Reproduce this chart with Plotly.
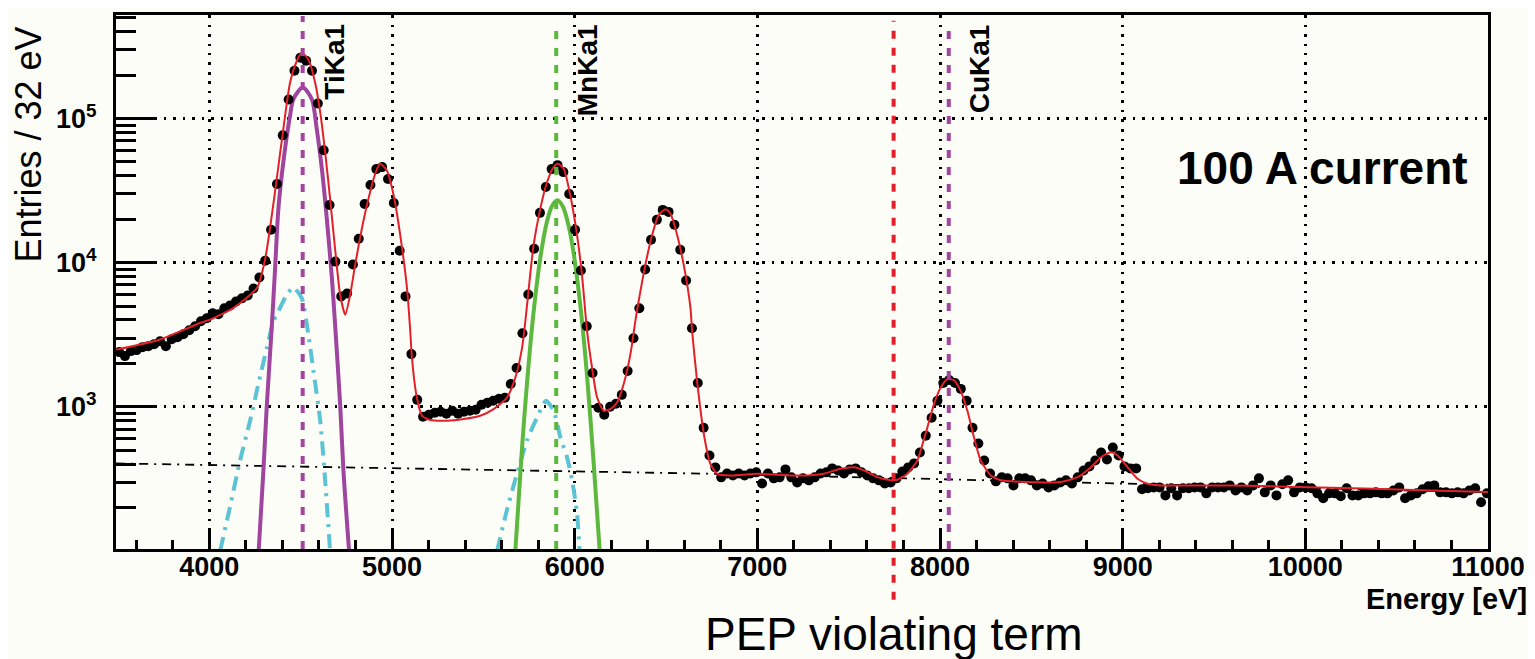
import numpy as np
import plotly.graph_objects as go

# ---------------- data ----------------
bin_width = 32
energy = np.arange(3506, 11000, bin_width)  # bin centres, 3490..11000 eV

counts = [2395, 2247, 2433, 2472, 2593, 2634, 2719, 2852, 2634, 2944,
          3040, 3187, 3396, 3620, 3920, 4110, 4450, 4380, 4818, 5050,
          5380, 5650, 5920, 6620, 7880, 10320, 16890, 35060, 76300, 135200,
          214300, 263400, 251200, 214300, 126900, 60170, 25120, 10160, 5830, 6110,
          9690, 14640, 25520, 34510, 44500, 45940, 37960, 25930, 12100, 5830,
          2320, 1117, 853, 881, 909, 924, 895, 938, 895, 924,
          938, 953, 1032, 1066, 1100, 1136, 1154, 1441, 1858, 3238,
          6017, 12490, 22130, 33430, 44500, 47420, 42420, 29920, 16890, 8808,
          3620, 1716, 984, 881, 1000, 1049, 1210, 1772, 2991, 4818,
          8950, 14410, 19800, 23200, 22470, 18290, 12290, 7513, 3506, 1464,
          716, 459, 380, 324, 345, 334, 345, 334, 345, 351,
          294, 345, 319, 324, 368, 324, 299, 319, 309, 324,
          345, 351, 374, 362, 345, 368, 374, 351, 334, 319,
          309, 294, 299, 319, 356, 380, 405, 482, 631, 840,
          1100, 1464, 1536, 1464, 1331, 1100, 716, 556, 424, 345,
          304, 324, 319, 285, 319, 319, 309, 285, 294, 276,
          285, 299, 309, 294, 324, 362, 386, 424, 482, 431,
          522, 459, 386, 374, 374, 268, 272, 276, 276, 243,
          272, 243, 272, 272, 276, 276, 251, 276, 276, 276,
          285, 263, 276, 263, 285, 319, 255, 285, 243, 290,
          309, 255, 276, 276, 272, 251, 232, 251, 251, 240,
          272, 243, 243, 251, 251, 255, 251, 251, 263, 276,
          232, 243, 251, 268, 281, 285, 255, 255, 251, 255,
          251, 263, 272, 218, 251]

# total fit function (red)
fit_energy = [3490, 3730, 3949, 4004, 4130, 4260, 4305, 4332, 4369, 4405, 4442, 4479,
              4506, 4542, 4579, 4607, 4634, 4661, 4689, 4716, 4744, 4771, 4798, 4835,
              4871, 4908, 4935, 4972, 5008, 5045, 5082, 5100, 5109, 5136, 5164, 5209,
              5301, 5392, 5483, 5556, 5629, 5675, 5712, 5730, 5775, 5812, 5849, 5885,
              5909, 5940, 5976, 6013, 6040, 6068, 6095, 6123, 6159, 6195, 6232, 6268,
              6305, 6332, 6350, 6387, 6424, 6460, 6497, 6524, 6561, 6597, 6634, 6643,
              6670, 6707, 6743, 6780, 6853, 6999, 7182, 7273, 7364, 7456, 7529, 7583,
              7657, 7730, 7766, 7821, 7876, 7894, 7931, 7967, 8004, 8040, 8076, 8113,
              8150, 8186, 8223, 8278, 8332, 8479, 8661, 8753, 8826, 8881, 8936, 8972,
              9027, 9081, 9136, 9209, 9593, 9958, 10323, 10688, 11000]
fit_counts = [2492, 2930, 3814, 4025, 4840, 6650, 10490, 17240, 38140, 84380, 177200, 250000,
              285200, 256500, 177200, 110000, 58290, 27760, 12230, 5990, 4360, 5990, 9640, 17240,
              27760, 41290, 48400, 43590, 29680, 15520, 6650, 3343, 2188, 1159, 867, 810,
              801, 823, 867, 964, 1159, 1593, 2565, 3920, 13250, 23690, 36200, 45940,
              48400, 44710, 29310, 15520, 8230, 3343, 1866, 1159, 938, 964, 1071, 1434,
              2309, 3920, 5380, 9640, 15520, 21330, 23460, 21880, 15520, 9640, 4840, 3343,
              1511, 648, 402, 343, 334, 343, 334, 334, 343, 372, 381, 362,
              325, 309, 312, 343, 424, 497, 720, 1044, 1359, 1552, 1528, 1289,
              938, 614, 424, 334, 309, 301, 301, 325, 381, 447, 484, 459,
              381, 317, 293, 285, 285, 278, 271, 263, 256]

# Ti Ka1 component (purple)
ti_ka1_energy = [4270, 4296, 4315, 4342, 4360, 4378, 4405, 4442, 4460, 4511, 4561, 4588,
                 4616, 4643, 4671, 4689, 4716, 4734, 4765]
ti_ka1_counts = [100, 362, 1044, 3620, 9135, 23690, 49730, 104900, 135900, 163600, 135900, 84380,
                 44710, 20210, 7793, 3620, 1044, 362, 100]

# Ti secondary component (cyan)
ti_sec_energy = [4059, 4113, 4168, 4223, 4268, 4315, 4351, 4378, 4424, 4460, 4506, 4542,
                 4570, 4607, 4634, 4661]
ti_sec_counts = [100, 202, 424, 800, 1434, 2565, 3920, 4594, 5990, 6722, 5674, 3172,
                 1772, 800, 309, 100]

# Mn Ka1 component (green)
mn_ka1_energy = [5675, 5712, 5739, 5775, 5812, 5849, 5876, 5905, 5936, 5967, 5994, 6031,
                 6068, 6104, 6137]
mn_ka1_counts = [100, 524, 1459, 4519, 10810, 19410, 24720, 27060, 24430, 17990, 11690, 5035,
                 1622, 407, 100]

# Mn secondary component (cyan)
mn_sec_energy = [5575, 5629, 5684, 5739, 5794, 5843, 5885, 5922, 5958, 5986, 6013, 6027]
mn_sec_counts = [100, 192, 343, 583, 844, 1100, 938, 614, 447, 309, 182, 100]

# background (black dash-dot)
bkg_energy = [3490, 6761, 8040, 11000]
bkg_counts = [405, 343, 314, 255]

# line markers
line_names = ["TiKa1", "MnKa1", "CuKa1"]
line_energy = [4511, 5899, 8048]
line_colors = ["#a3449f", "#5bb83d", "#a3449f"]
pep_energy = 7746

y_major = [1e3, 1e4, 1e5]
y_major_text = ["10<sup>3</sup>", "10<sup>4</sup>", "10<sup>5</sup>"]
y_minor = [m * 10 ** e for e in (2, 3, 4) for m in range(2, 10)] + [2e5, 3e5, 4e5, 5e5]

# ---------------- figure ----------------
FONT = "Liberation Sans"
fig = go.Figure()

fig.add_trace(go.Scatter(x=bkg_energy, y=bkg_counts, mode="lines",
                         line=dict(color="black", width=1.8, dash="9px,6px,2px,6px")))
fig.add_trace(go.Scatter(x=ti_sec_energy, y=ti_sec_counts, mode="lines",
                         line=dict(color="#5cc3d4", width=4, shape="spline", smoothing=0.6,
                                   dash="14px,7px,3px,7px")))
fig.add_trace(go.Scatter(x=mn_sec_energy, y=mn_sec_counts, mode="lines",
                         line=dict(color="#5cc3d4", width=4, shape="spline", smoothing=0.6,
                                   dash="14px,7px,3px,7px")))
fig.add_trace(go.Scatter(x=ti_ka1_energy, y=ti_ka1_counts, mode="lines",
                         line=dict(color="#a0459f", width=4, shape="spline", smoothing=0.8)))
fig.add_trace(go.Scatter(x=mn_ka1_energy, y=mn_ka1_counts, mode="lines",
                         line=dict(color="#5db83f", width=4, shape="spline", smoothing=0.8)))
fig.add_trace(go.Scatter(x=energy, y=counts, mode="markers",
                         marker=dict(color="black", size=10, line=dict(width=0))))
fig.add_trace(go.Scatter(x=fit_energy, y=fit_counts, mode="lines",
                         line=dict(color="#e3202a", width=2, shape="spline", smoothing=0.6)))

shapes = []
for e, c, top in zip(line_energy, line_colors, [0.998, 0.981, 0.981]):
    shapes.append(dict(type="line", xref="x", yref="paper", x0=e, x1=e, y0=0, y1=top,
                       line=dict(color=c, width=4, dash="8px,9px"), layer="above"))
shapes.append(dict(type="line", xref="x", yref="paper", x0=pep_energy, x1=pep_energy,
                   y0=-0.095, y1=0.989,
                   line=dict(color="#e3202a", width=4, dash="8px,9px"), layer="above"))

annotations = []
for name, e in zip(line_names, line_energy):
    annotations.append(dict(text="<b>%s</b>" % name, xref="x", x=e, xshift=31, xanchor="center",
                            yref="paper", y=1, yanchor="top", yshift=-7, textangle=-90,
                            showarrow=False, font=dict(family=FONT, size=28, color="black")))
annotations += [
    dict(text="Entries / 32 eV", xref="paper", x=0, xanchor="right", xshift=-66,
         yref="paper", y=1, yanchor="top", yshift=-10, textangle=-90, showarrow=False,
         font=dict(family=FONT, size=36, color="black")),
    dict(text="<b>Energy [eV]</b>", xref="paper", x=1, xanchor="right", xshift=41,
         yref="paper", y=0, yanchor="top", yshift=-32, showarrow=False,
         font=dict(family=FONT, size=29, color="black")),
    dict(text="PEP violating term", xref="x", x=pep_energy, xanchor="center",
         yref="paper", y=0, yanchor="top", yshift=-57, showarrow=False,
         font=dict(family=FONT, size=46, color="black")),
    dict(text="<b>100 A current</b>", xref="paper", x=1, xanchor="right", xshift=-18,
         yref="paper", y=1, yanchor="top", yshift=-125, showarrow=False,
         font=dict(family=FONT, size=46, color="black")),
]

bg = "#fdfdf8"
fig.update_layout(
    width=1527, height=651,
    margin=dict(l=108, r=47, t=4, b=110),
    paper_bgcolor=bg, plot_bgcolor=bg,
    showlegend=False,
    shapes=shapes, annotations=annotations,
    xaxis=dict(range=[3489, 11000], showline=True, linewidth=3, linecolor="black", mirror=True,
               ticks="inside", ticklen=18, tickwidth=2.5, tickcolor="black",
               tick0=0, dtick=1000, tickformat="d", zeroline=False,
               showgrid=True, gridcolor="black", gridwidth=2.5, griddash="2.5px,7px",
               tickfont=dict(family=FONT, size=27, color="black", weight="bold"),
               ticklabelstandoff=-8,
               minor=dict(ticks="inside", ticklen=9, tickwidth=2.5, tickcolor="black",
                          tick0=0, dtick=200, showgrid=False)),
    yaxis=dict(type="log", range=[2.0138, 5.7172], showline=True, linewidth=3, linecolor="black",
               mirror=True, ticks="inside", ticklen=40, tickwidth=2.5, tickcolor="black",
               tickmode="array", tickvals=y_major, ticktext=y_major_text, zeroline=False,
               showgrid=True, gridcolor="black", gridwidth=2.5, griddash="2.5px,7px",
               tickfont=dict(family=FONT, size=27, color="black", weight="bold"),
               ticklabelstandoff=11,
               minor=dict(ticks="inside", ticklen=20, tickwidth=2.5, tickcolor="black",
                          tickmode="array", tickvals=y_minor, showgrid=False)),
)

fig.write_html("out.html")
